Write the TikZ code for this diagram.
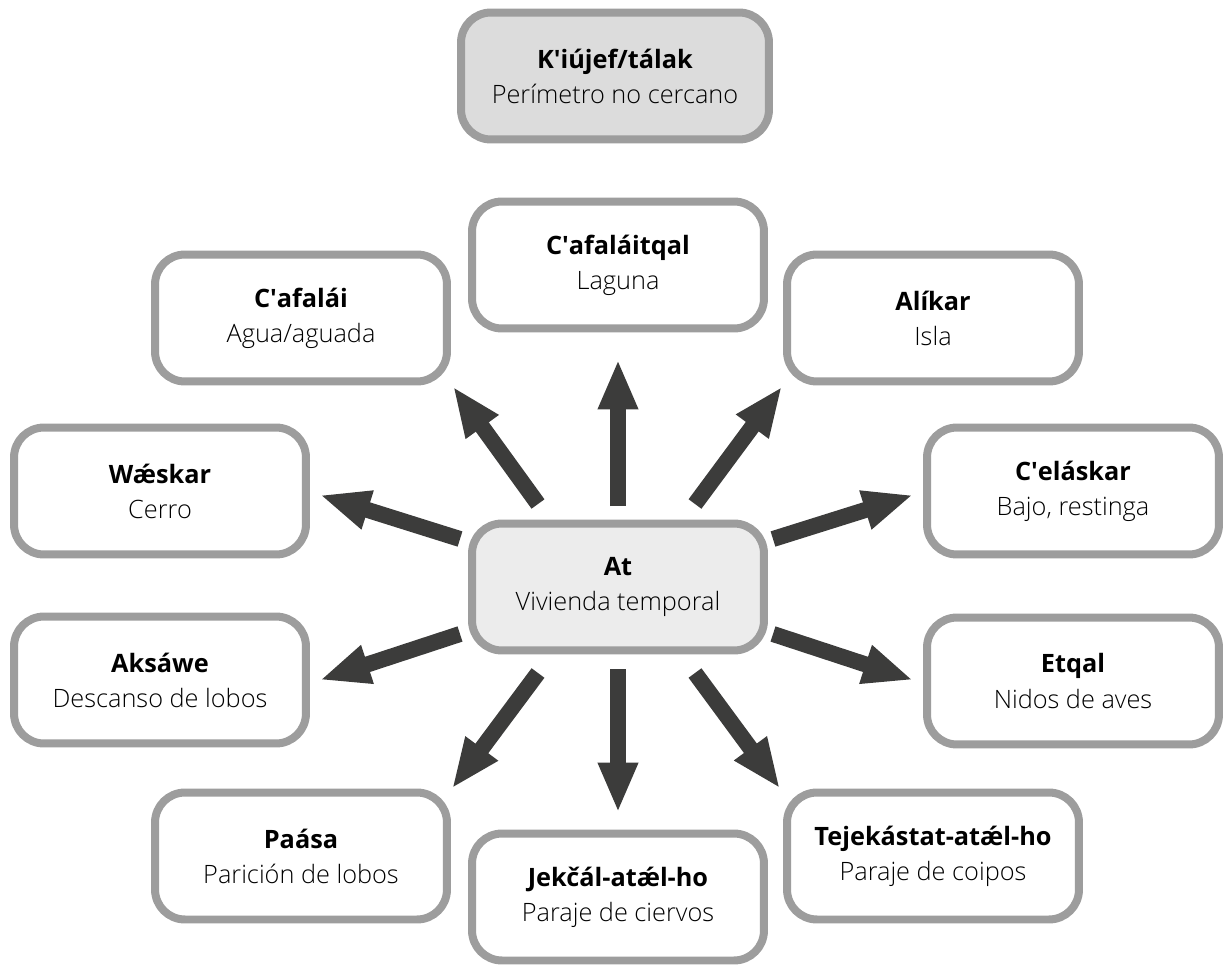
\documentclass[tikz,border=0pt]{standalone}
\usepackage{fontspec}
\setmainfont{Open Sans}
\newfontfamily\lightfont{Open Sans Light}
\usepackage{tikz}
\usetikzlibrary{arrows.meta,calc,positioning}
\definecolor{boxgray}{HTML}{9D9D9D}
\definecolor{arrowgray}{HTML}{3C3C3B}
\definecolor{atfill}{HTML}{ECECEC}
\definecolor{farfill}{HTML}{DCDCDC}
\newcommand{\apos}{\textquotesingle}
\newcommand{\place}[2]{\textbf{#1}\\{\lightfont #2}}

\begin{document}
\begin{tikzpicture}[x=0.02cm,y=-0.02cm,
	box/.style={draw=boxgray,line width=0.16cm,rounded corners=0.6cm,fill=white,align=center,
		minimum width=5.84cm,minimum height=2.54cm,inner sep=0pt,font=\fontsize{14.4}{20}\selectfont},
	bigarrow/.style={draw=arrowgray,line width=0.32cm,-{Triangle[length=1cm,width=0.74cm]}}]
	\useasboundingbox (0,0) rectangle (1224,967);

	\node[box,fill=farfill,minimum width=6.16cm] (11) at (615,76) {\place{K\apos iújef/tálak}{Perímetro no cercano}};
	\node[box,fill=atfill] (0) at (618,587) {\place{At}{Vivienda temporal}};

	\node[box] (1) at (618,265) {\place{C\apos afaláitqal}{Laguna}};
	\node[box] (2) at (301,318) {\place{C\apos afalái}{Agua/aguada}};
	\node[box] (3) at (933,318) {\place{Alíkar}{Isla}};
	\node[box] (4) at (160,491) {\place{Wǽskar}{Cerro}};
	\node[box] (5) at (1073,491) {\place{C\apos eláskar}{Bajo, restinga}};
	\node[box] (6) at (160,680) {\place{Aksáwe}{Descanso de lobos}};
	\node[box] (7) at (1073,681) {\place{Etqal}{Nidos de aves}};
	\node[box] (8) at (301,856) {\place{Paása}{Parición de lobos}};
	\node[box] (9) at (618,897) {\place{Jekčál-atǽl-ho}{Paraje de ciervos}};
	\node[box] (10) at (933,856) {\place{Tejekástat-atǽl-ho}{Paraje de coipos}};

	\draw[bigarrow] ($(0)+(0,-81)$) -- ($(1.south)+(0,27)$);
	\draw[bigarrow] ($(0)+(-80,-83)$) -- ($(2.south east)+(2,1)$);
	\draw[bigarrow] ($(0)+(77,-83)$) -- ($(3.south west)+(-1,1)$);
	\draw[bigarrow] ($(0)+(-158,-48)$) -- ($(4.east)+(10,4)$);
	\draw[bigarrow] ($(0)+(155,-48)$) -- ($(5.west)+(-10,4)$);
	\draw[bigarrow] ($(0)+(-158,47)$) -- ($(6.east)+(10,0)$);
	\draw[bigarrow] ($(0)+(155,47)$) -- ($(7.west)+(-10,-1)$);
	\draw[bigarrow] ($(0)+(-80,86)$) -- ($(8.north east)+(1,0)$);
	\draw[bigarrow] ($(0)+(0,82)$) -- ($(9.north)+(0,-17)$);
	\draw[bigarrow] ($(0)+(77,86)$) -- ($(10.north west)+(-3,0)$);
\end{tikzpicture}
\end{document}
